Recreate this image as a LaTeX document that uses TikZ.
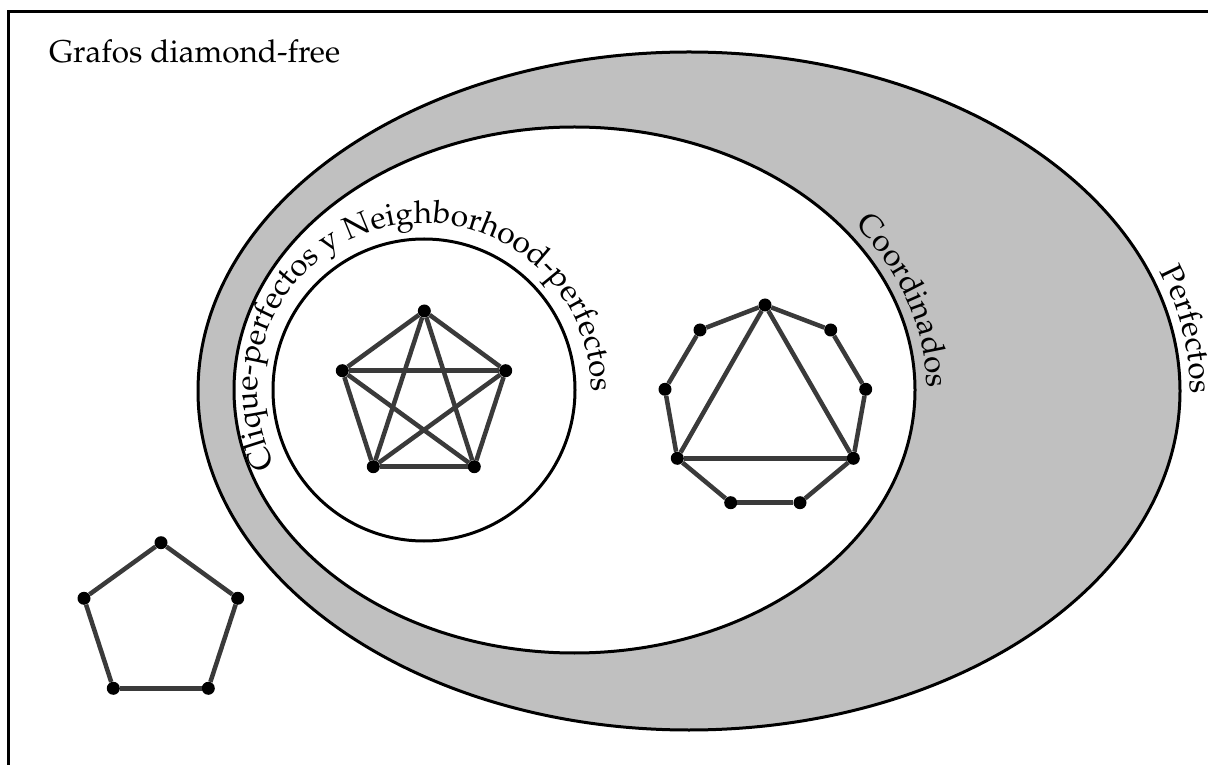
\documentclass[tikz,border=0pt]{standalone}
\usepackage[T1]{fontenc}
\renewcommand{\rmdefault}{ppl}
\usetikzlibrary{decorations.text}
\definecolor{shade}{RGB}{192,192,192}
\definecolor{edgec}{RGB}{58,58,58}
\newcommand{\lblfont}{\fontsize{31.5}{36}\selectfont}
\tikzset{
  vtx/.style={circle,fill=black,inner sep=0pt,minimum size=13pt},
  gedge/.style={draw=edgec,line width=4.5pt},
  region/.style={draw=black,line width=3pt},
  curvelabel/.style={decorate,decoration={text along path,text align=left,raise=#1}},
}
\begin{document}
\begin{tikzpicture}[x=1pt,y=1pt]
\useasboundingbox (0,0) rectangle (1208,764);
% frame (only top and left edges visible)
\draw[line width=3pt] (8.5,-20) -- (8.5,752) -- (1230,752);
% regions
\path[region,fill=shade] (689,373) ellipse [x radius=491, y radius=339];
\path[region,fill=white] (574.5,374) ellipse [x radius=340.5, y radius=263];
\path[region,fill=white] (424,374) circle [radius=151];
% K5
\node[vtx] (a1) at (424.3,453) {};
\node[vtx] (a2) at (505.7,393.3) {};
\node[vtx] (a3) at (474.3,297.3) {};
\node[vtx] (a4) at (373.3,297.3) {};
\node[vtx] (a5) at (342.3,393.3) {};
\foreach \u/\v in {a1/a2,a2/a3,a3/a4,a4/a5,a5/a1,a1/a3,a1/a4,a2/a4,a2/a5,a3/a5}
  \draw[gedge] (\u) -- (\v);
% nonagon with triangle
\node[vtx] (b1) at (765,459) {};
\node[vtx] (b2) at (830.7,434) {};
\node[vtx] (b3) at (865.7,374.7) {};
\node[vtx] (b4) at (853.3,305.7) {};
\node[vtx] (b5) at (800,261.3) {};
\node[vtx] (b6) at (730.7,261.3) {};
\node[vtx] (b7) at (677.3,305.7) {};
\node[vtx] (b8) at (665,374.7) {};
\node[vtx] (b9) at (700,434) {};
\foreach \u/\v in {b1/b2,b2/b3,b3/b4,b4/b5,b5/b6,b6/b7,b7/b8,b8/b9,b9/b1,b1/b4,b4/b7,b7/b1}
  \draw[gedge] (\u) -- (\v);
% C5
\node[vtx] (c1) at (161,221.3) {};
\node[vtx] (c2) at (237.7,165.7) {};
\node[vtx] (c3) at (208.3,75.7) {};
\node[vtx] (c4) at (113.3,75.7) {};
\node[vtx] (c5) at (84,165.7) {};
\foreach \u/\v in {c1/c2,c2/c3,c3/c4,c4/c5,c5/c1}
  \draw[gedge] (\u) -- (\v);
% labels
\node[anchor=base west,inner sep=0pt,font=\lblfont] (title) at (49,701) {Grafos diamond-free};
\path[curvelabel=0pt,decoration={text={|\lblfont|Clique-perfectos y Neighborhood-perfectos}}]
  (424,374) ++(207:167) arc[start angle=207, end angle=-60, radius=167];
\path[curvelabel=0pt,decoration={text={|\lblfont|Coordinados}}]
  (574.5,374) ++(37:352 and 274) arc[start angle=37, end angle=-40, x radius=352, y radius=274];
\path[curvelabel=0pt,decoration={text={|\lblfont|Perfectos}}]
  (689,373) ++(20:501 and 349) arc[start angle=20, end angle=-30, x radius=501, y radius=349];
\end{tikzpicture}
\end{document}
